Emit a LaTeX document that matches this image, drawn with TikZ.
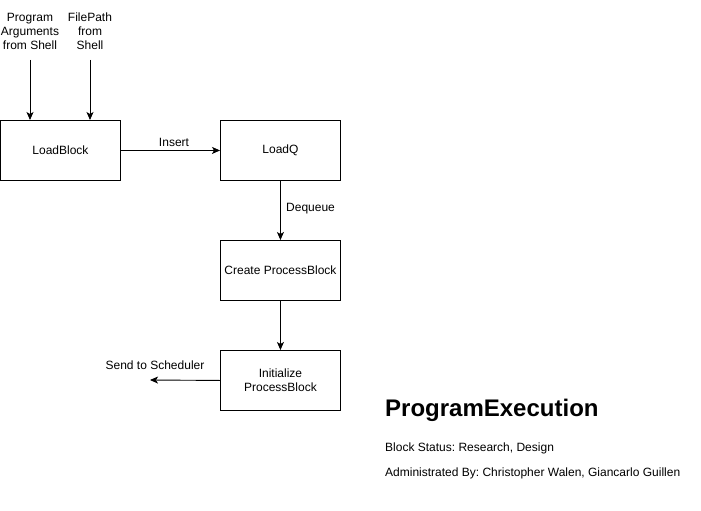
\documentclass[tikz,border=0pt]{standalone}
\usepackage{fontspec}
\setmainfont{Liberation Sans}
\usetikzlibrary{arrows.meta}
\frenchspacing
\begin{document}
\begin{tikzpicture}[x=1pt,y=-1pt,
  box/.style={draw,line width=0.9pt,minimum width=120pt,minimum height=60pt,anchor=north west,inner sep=0pt,font=\fontsize{12}{14}\selectfont,align=center},
  lbl/.style={font=\fontsize{12}{14}\selectfont,align=center,inner sep=0pt},
  arr/.style={line width=0.9pt,-{Stealth[length=8pt,width=7pt,inset=2pt]}}]
\useasboundingbox (0,0) rectangle (701,511);
\node[box] (lb) at (0,120) {LoadBlock};
\node[box] (lq) at (220,120) {LoadQ};
\node[box] (cp) at (220,240) {Create ProcessBlock};
\node[box] (ip) at (220,350) {Initialize\\ProcessBlock};
\node[lbl] (pa) at (30,31) {Program\\Arguments\\from Shell};
\node[lbl] (fp) at (90,31) {FilePath\\from\\Shell};
\coordinate (pa1) at (30,60);
\coordinate (fp1) at (90,60);
\draw[arr] (pa1) -- (lb.north west -| pa1);
\draw[arr] (fp1) -- (lb.north west -| fp1);
\draw[arr] (lb.east) -- (lq.west);
\node[lbl] (ins) at (174,142) {Insert};
\draw[arr] (lq.south) -- (cp.north);
\node[lbl,anchor=west] (deq) at (286,209) {Dequeue};
\draw[arr] (cp.south) -- (ip.north);
\coordinate (st) at (150,380);
\draw[arr] (ip.west) -- (st);
\node[lbl] (sts) at (155,365) {Send to Scheduler};
\node[lbl,anchor=west,font=\bfseries\fontsize{24}{28}\selectfont] (title) at (385,410) {ProgramExecution};
\node[lbl,anchor=west] (bs) at (385,448) {Block Status: Research, Design};
\node[lbl,anchor=west] (ad) at (385,473) {Administrated By: Christopher Walen, Giancarlo Guillen};
\end{tikzpicture}
\end{document}
